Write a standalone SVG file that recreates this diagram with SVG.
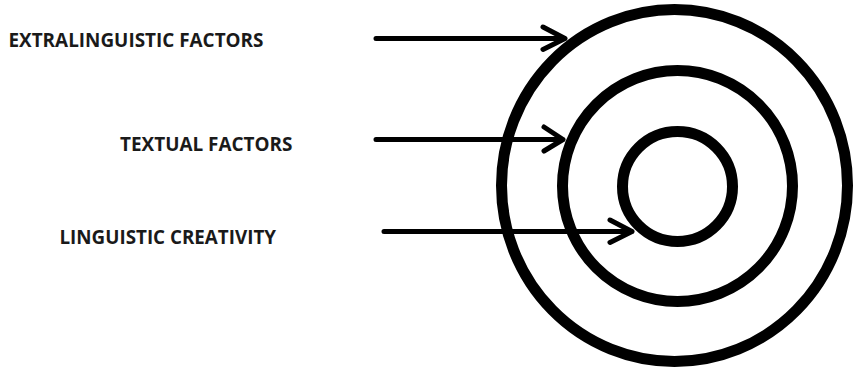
<svg xmlns="http://www.w3.org/2000/svg" width="854" height="369" viewBox="0 0 854 369">
<style>
.lbl{font-family:"Open Sans","Liberation Sans",sans-serif;font-weight:bold;font-size:19.5px;fill:#1a1a1a}
.ring{fill:none;stroke:#000;stroke-width:11}
.arr{fill:none;stroke:#000;stroke-width:5;stroke-linecap:round;stroke-linejoin:round}
</style>
<rect width="854" height="369" fill="#fff"/>
<g id="rings">
<ellipse id="outer" class="ring" cx="674.5" cy="185.5" rx="173" ry="176"/>
<ellipse id="middle" class="ring" cx="677.5" cy="186" rx="115" ry="115.5"/>
<ellipse id="inner" class="ring" cx="677.5" cy="186.5" rx="55" ry="55"/>
</g>
<g id="extralinguistic"><text class="lbl" x="8.5" y="46.7" textLength="255" lengthAdjust="spacingAndGlyphs">EXTRALINGUISTIC FACTORS</text></g>
<g id="textual"><text class="lbl" x="120" y="150.7" textLength="172.5" lengthAdjust="spacingAndGlyphs">TEXTUAL FACTORS</text></g>
<g id="linguistic"><text class="lbl" x="59.5" y="244" textLength="216.5" lengthAdjust="spacingAndGlyphs">LINGUISTIC CREATIVITY</text></g>
<g id="connectors">
<path class="arr" d="M376,38.5 H565 M543,27 L565,38.5 L543,49.5"/>
<path class="arr" d="M376,139.5 H563 M544,127 L563,139.5 L544,151"/>
<path class="arr" d="M384,231.5 H632 M610,220 L632,231.5 L610,242.5"/>
</g>
</svg>
